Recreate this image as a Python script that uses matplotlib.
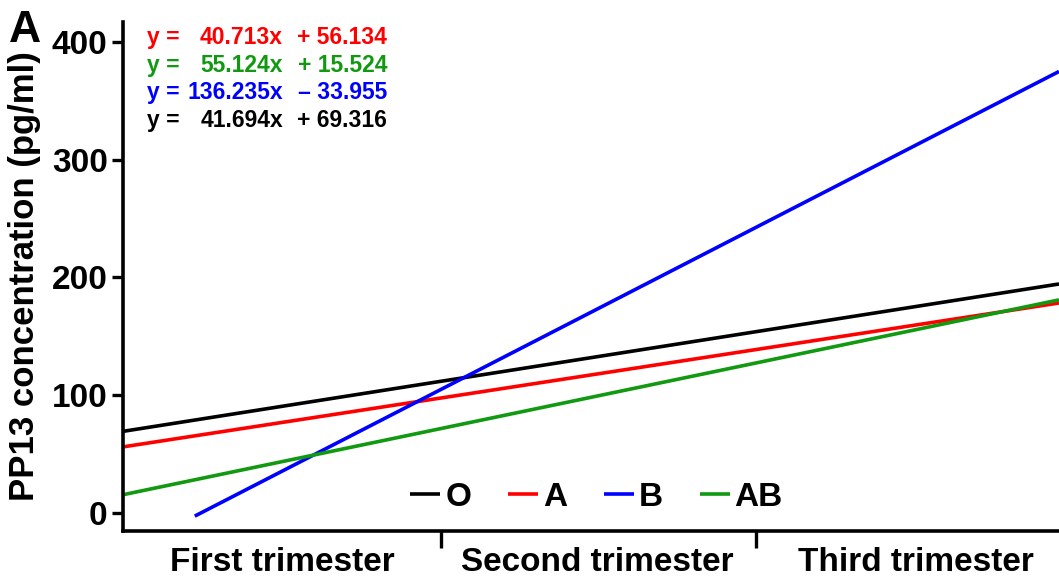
import matplotlib
matplotlib.use("Agg")
import matplotlib.pyplot as plt
import numpy as np

plt.rcParams['font.family'] = ['Liberation Sans', 'DejaVu Sans']
plt.rcParams['font.weight'] = 'bold'

groups = ["O", "A", "B", "AB"]
colors = ["#000000", "#ff0000", "#0000ff", "#119911"]
slopes = [41.694, 40.713, 136.235, 55.124]
intercepts = [69.316, 56.134, -33.955, 15.524]
x_start = [0.0, 0.0, 0.23, 0.0]
x_end = 3.0

eq_order = ["A", "AB", "B", "O"]
eq_slope_txt = ["40.713x", "55.124x", "136.235x", "41.694x"]
eq_int_txt = ["+ 56.134", "+ 15.524", "\u2013 33.955", "+ 69.316"]

tick_cats = ["First trimester", "Second trimester", "Third trimester"]
yticks = [0, 100, 200, 300, 400]

fig = plt.figure(figsize=(10.59, 5.84), dpi=100)
ax = fig.add_axes([123/1059, (584-530.7)/584, 1 - 123/1059, (530.7-21.7)/584])

for g, c, m, b, x0 in zip(groups, colors, slopes, intercepts, x_start):
    xs = np.array([x0, x_end])
    ax.plot(xs, m*xs + b, color=c, lw=2.6, label=g, solid_capstyle='butt')

ax.set_xlim(0, x_end)
ax.set_ylim(-15, 417)
ax.set_yticks(yticks)
ax.set_yticklabels([str(v) for v in yticks], fontsize=24, fontweight='bold')
ax.set_xticks([1.02, 2.03])
ax.set_xticklabels([])
ax.set_xticks([0.51, 1.52, 2.54], minor=True)
ax.set_xticklabels(tick_cats, minor=True, fontsize=24, fontweight='bold')
ax.tick_params(axis='x', which='major', length=12, width=2.4, direction='out')
ax.tick_params(axis='x', which='minor', length=0, pad=12)
ax.tick_params(axis='y', length=8, width=2.4, direction='out', pad=3)
for s in ['top', 'right']:
    ax.spines[s].set_visible(False)
for s in ['left', 'bottom']:
    ax.spines[s].set_linewidth(2.6)

ax.set_ylabel("PP13 concentration (pg/ml)", fontsize=25, fontweight='bold', labelpad=8)

leg = ax.legend(loc='center', bbox_to_anchor=(0.506, 0.066), ncol=4, frameon=False,
                prop={'size': 24, 'weight': 'bold'}, handlelength=0.9,
                handletextpad=0.15, columnspacing=1.1)

fig.text(9/1059, 1 - 42/584, "A", fontsize=32, fontweight='bold', ha='left', va='baseline')

col_of = {g: c for g, c in zip(groups, colors)}
for i, (g, st, it) in enumerate(zip(eq_order, eq_slope_txt, eq_int_txt)):
    yb = 1 - (44 + i*27.6)/584
    c = col_of[g]
    fig.text(147/1059, yb, "y =", color=c, fontsize=16.5, fontweight='bold', ha='left', va='baseline')
    fig.text(283/1059, yb, st, color=c, fontsize=16.5, fontweight='bold', ha='right', va='baseline')
    fig.text(387/1059, yb, it, color=c, fontsize=16.5, fontweight='bold', ha='right', va='baseline')

fig.savefig("out.png", dpi=100)
